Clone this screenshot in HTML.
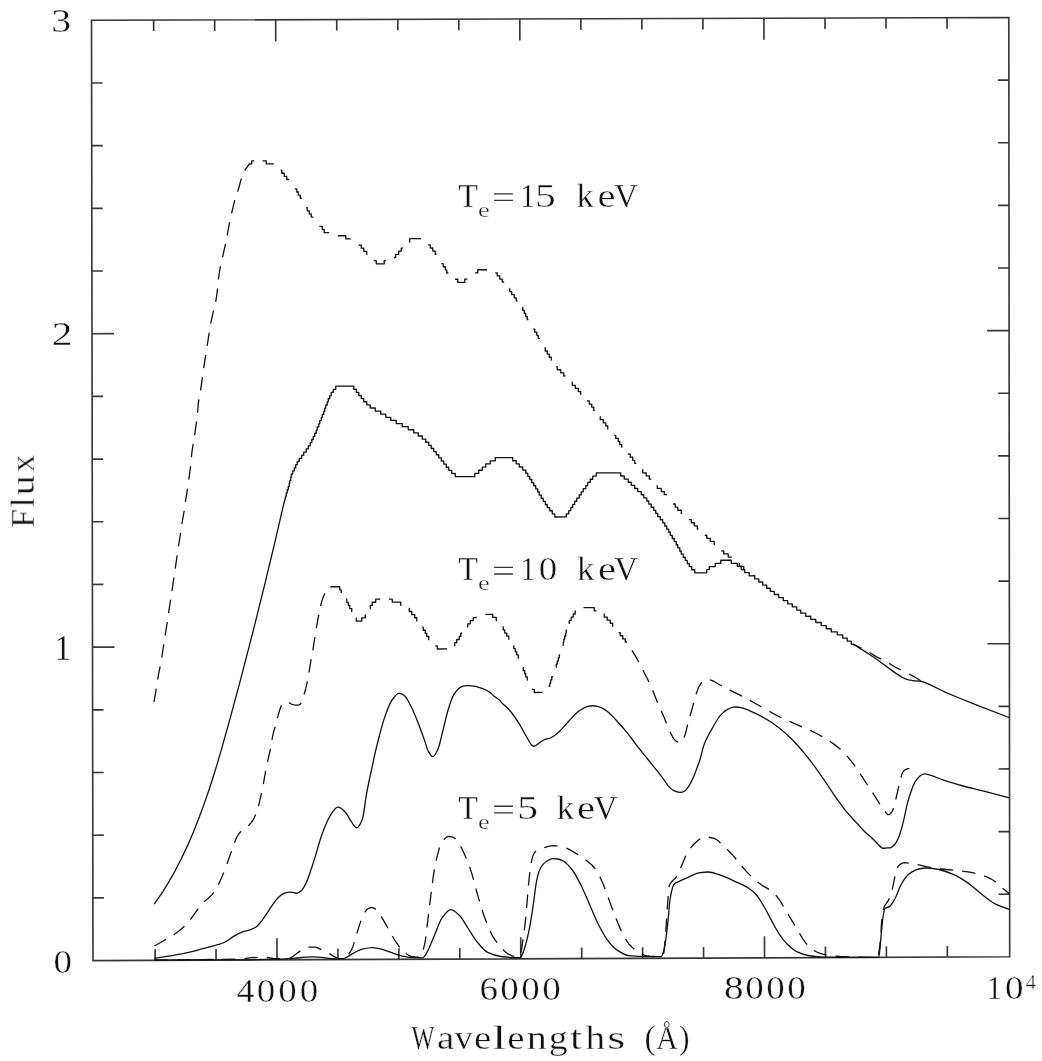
<!DOCTYPE html><html><head><meta charset="utf-8"><style>html,body{margin:0;padding:0;background:#fff;}svg{display:block;} text{will-change:transform;}</style></head><body>
<svg width="1042" height="1061" viewBox="0 0 1042 1061">
<rect width="1042" height="1061" fill="#fff"/>
<path d="M93 960.6 L1009.7 956.8 L1008.8 17.5 L91.5 20.3 Z" fill="none" stroke="#383838" stroke-width="1.65"/>
<path d="M155.12 960.34 L155.1 949.34 M153.64 20.11 L153.66 31.11 M216.06 960.09 L216.04 949.09 M214.67 19.92 L214.69 30.92 M277 959.84 L276.97 938.34 M275.7 19.74 L275.73 41.24 M337.94 959.58 L337.92 948.58 M336.73 19.55 L336.75 30.55 M398.88 959.33 L398.86 948.33 M397.76 19.37 L397.78 30.37 M459.82 959.08 L459.8 948.08 M458.79 19.18 L458.81 30.18 M520.76 958.83 L520.73 937.33 M519.82 18.99 L519.85 40.49 M581.7 958.57 L581.68 947.57 M580.85 18.81 L580.87 29.81 M642.64 958.32 L642.62 947.32 M641.88 18.62 L641.9 29.62 M703.58 958.07 L703.56 947.07 M702.91 18.43 L702.93 29.43 M764.52 957.82 L764.49 936.32 M763.94 18.25 L763.97 39.75 M825.46 957.56 L825.44 946.56 M824.97 18.06 L824.99 29.06 M886.4 957.31 L886.38 946.31 M886 17.87 L886.02 28.87 M947.34 957.06 L947.32 946.06 M947.03 17.69 L947.05 28.69 M92.9 897.91 L103.9 897.87 M1009.64 894.18 L998.64 894.22 M92.8 835.23 L103.8 835.18 M1009.58 831.56 L998.58 831.6 M92.7 772.54 L103.7 772.5 M1009.52 768.94 L998.52 768.98 M92.6 709.85 L103.6 709.81 M1009.46 706.32 L998.46 706.36 M92.5 647.17 L114.5 647.08 M1009.4 643.7 L987.4 643.78 M92.4 584.48 L103.4 584.44 M1009.34 581.08 L998.34 581.12 M92.3 521.79 L103.3 521.75 M1009.28 518.46 L998.28 518.5 M92.2 459.11 L103.2 459.07 M1009.22 455.84 L998.22 455.88 M92.1 396.42 L103.1 396.38 M1009.16 393.22 L998.16 393.26 M92 333.73 L114.01 333.66 M1009.1 330.6 L987.09 330.68 M91.9 271.05 L102.91 271.01 M1009.04 267.98 L998.03 268.02 M91.8 208.36 L102.81 208.32 M1008.98 205.36 L997.97 205.4 M91.7 145.67 L102.71 145.64 M1008.92 142.74 L997.91 142.78 M91.6 82.99 L102.61 82.95 M1008.86 80.12 L997.85 80.15" fill="none" stroke="#383838" stroke-width="1.65"/>
<path d="M154 701.9 L156.32 688.6 M157.66 679.7 L158.57 674.15 L160.15 666.44 M161.76 657.58 L163.77 644.23 M165.16 635.34 L167.31 622.01 M168.53 613.1 L170.63 599.76 M172 590.87 L173.9 577.5 M175.22 568.6 L177.17 555.24 M178.46 546.33 L180.59 533 M181.85 524.09 L184.19 510.8 M185.42 501.88 L187.53 488.55 M188.79 479.64 L190.57 466.26 M191.39 457.29 L191.92 451.9 L193.18 443.92 M194.63 435.04 L196.52 421.67 M197.58 412.73 L198.28 403.98 L198.9 399.31 M200.52 390.45 L201.29 385.59 L202.39 377.08 M203.63 368.17 L205.75 354.84 M207.2 345.96 L209.18 332.6 M210.62 323.72 L213.51 310.54 M215.64 301.79 L216.59 296.29 L217.62 288.44 M218.45 279.48 L219.24 273.41 L220.51 266.14 M222.51 257.37 L225.48 244.2 M227.23 235.37 L229.59 222.08 M231.56 213.3 L234.8 200.2 M237.61 191.65 L239.08 187.02 L241.26 178.66 M244.85 170.42 L246.5 167.8 L248.47 165.45 L249 163.98 L251.75 163.97 L251.75 160.83 L254.23 160.82 M262.53 160.8 L266.25 160.79 L266.25 163.92 L273.77 163.9 M280.57 170.14 L281.75 170.14 L281.75 173.27 L284.25 173.26 L284.25 176.4 L286.75 176.39 L286.75 179.52 L289.13 179.51 M294.81 188.9 L296.75 188.89 L296.75 192.02 L298.25 192.02 L298.25 195.15 L300.25 195.15 L300.25 198.28 L301.8 198.27 M306.19 207.66 L307.25 207.66 L307.25 210.79 L309.25 210.78 L309.25 213.92 L311.25 213.91 L311.25 217.04 L313.45 217.04 M319.31 226.42 L322.25 226.41 L322.25 229.54 L324.25 229.54 L324.25 232.67 L329.17 232.65 M337.86 235.76 L345.75 235.73 L345.75 238.87 L350.71 238.85 M358.47 245.09 L361.25 245.08 L361.25 248.21 L363.75 248.21 L363.75 251.34 L366.75 251.33 L366.75 254.46 L367.39 254.46 M373.66 260.71 L376.25 260.7 L376.25 263.83 L384.25 263.8 L384.25 260.67 L385.94 260.67 M393.84 257.51 L395.75 257.5 L395.75 254.37 L398.75 254.36 L398.75 251.22 L401.25 251.21 L401.25 248.08 L402.89 248.08 M408.96 241.79 L409.75 241.79 L409.75 238.65 L421.01 238.62 M428.14 244.86 L430.25 244.85 L430.25 247.99 L432.75 247.98 L432.75 251.11 L435.25 251.1 L435.25 254.23 L436.56 254.23 M441.45 263.61 L443.25 263.61 L443.25 266.74 L445.25 266.73 L445.25 269.87 L446.75 269.86 L446.75 272.99 L448.42 272.99 M455.11 279.23 L457.75 279.22 L457.75 282.36 L464.75 282.33 L464.75 279.2 L467.52 279.19 M474.81 272.9 L477.75 272.89 L477.75 269.76 L487.08 269.73 M495.26 272.83 L497.25 272.83 L497.25 275.96 L499.75 275.95 L499.75 279.08 L502.25 279.07 L502.25 282.21 L504.16 282.2 M509.66 288.45 L509.75 288.45 L509.75 291.58 L511.75 291.57 L511.75 294.71 L514.25 294.7 L514.25 297.83 L516.25 297.82 L516.25 300.96 L517.57 300.95 M522.43 307.2 L522.75 307.2 L522.75 310.33 L524.25 310.33 L524.25 313.46 L525.75 313.46 L525.75 316.59 L527.25 316.58 L527.25 319.72 L528.43 319.71 M533.18 329.09 L534.75 329.09 L534.75 332.22 L536.75 332.21 L536.75 335.35 L538.25 335.34 L538.25 338.48 L540.08 338.47 M544.42 347.85 L545.25 347.85 L545.25 350.98 L547.25 350.98 L547.25 354.11 L549.25 354.1 L549.25 357.23 L551.25 357.23 L551.25 360.36 L551.4 360.36 M556.25 366.61 L557.25 366.6 L557.25 369.74 L560.75 369.72 L560.75 372.86 L563.75 372.85 L563.75 375.98 L565.53 375.97 M571.63 382.22 L572.25 382.21 L572.25 385.35 L575.25 385.34 L575.25 388.47 L578.25 388.46 L578.25 391.59 L580.75 391.58 L580.75 394.72 L580.87 394.72 M586.88 400.96 L589.25 400.95 L589.25 404.08 L591.75 404.07 L591.75 407.21 L593.75 407.2 L593.75 410.33 L594.76 410.33 M600.13 416.58 L600.25 416.57 L600.25 419.71 L603.25 419.7 L603.25 422.83 L605.75 422.82 L605.75 425.95 L607.75 425.95 L607.75 429.08 L608.28 429.08 M614.17 435.32 L615.75 435.32 L615.75 438.45 L618.25 438.44 L618.25 441.57 L619.75 441.57 L619.75 444.7 L621.75 444.69 L621.77 447.82 M627.84 454.07 L630.25 454.06 L630.25 457.19 L632.75 457.18 L632.75 460.31 L634.75 460.31 L634.75 463.44 L636.3 463.43 M642.16 469.68 L642.75 469.68 L642.75 472.81 L646.25 472.79 L646.25 475.93 L649.25 475.92 L649.25 479.05 L651.33 479.04 M657.21 485.28 L657.25 488.42 L661.25 488.4 L661.25 491.53 L664.25 491.52 L664.25 494.66 L667.06 494.65 M672.98 504.02 L675.25 504.01 L675.25 507.15 L677.75 507.14 L677.75 510.27 L681.25 510.26 L681.25 513.39 L682.23 513.38 M688.92 519.62 L691.25 519.62 L691.25 522.75 L694.25 522.74 L694.25 525.87 L697.25 525.86 L697.25 528.99 L698.41 528.99 M704.76 535.23 L706.75 535.22 L706.75 538.35 L710.25 538.34 L710.25 541.47 L714.25 541.46 L714.25 544.59 L714.81 544.59 M721.17 550.83 L723.75 550.82 L723.75 553.95 L728.25 553.93 L728.25 557.07 L731.85 557.05 M738.64 563.29 L739.25 563.29 L739.25 566.42 L743.75 566.4 L743.75 569.54 L744.5 569.53" fill="none" stroke="#111" stroke-width="1.3" stroke-linejoin="round"/>
<path d="M853 644.1 L861.54 648.27 M869.51 652.44 L876.1 656.6 L881.2 659.15 M889.11 663.43 L895.3 667.2 L900.87 670.03 M908.96 673.97 L914.5 676.8 L920.66 680.68" fill="none" stroke="#111" stroke-width="1.3" stroke-linejoin="round"/>
<path d="M154.2 904.2 L161.53 893.58 L168.39 882.64 L175.17 870.72 L181.46 858.54 L187.65 845.4 L193.4 832.06 L199.33 817.06 L205.13 801.14 L209.04 789.69 L212.78 778.18 L216.6 765.85 L220.74 751.93 L229.68 720.08 L241.81 674.89 L253.32 630.37 L264.63 584.96 L274.42 544.17 L283.68 504.21 L285.96 495.77 L286 496.02 L286.25 496.02 L286.25 492.89 L287.25 492.88 L287.25 489.75 L288.25 489.75 L288.25 486.61 L289.25 486.61 L289.25 483.47 L289.75 483.47 L289.75 480.34 L290.75 480.34 L290.75 477.2 L291.25 477.2 L291.25 474.07 L292.75 474.06 L292.75 470.93 L294.25 470.92 L294.25 467.79 L295.75 467.78 L295.75 464.65 L297.25 464.64 L297.25 461.51 L299.25 461.5 L299.25 458.37 L301.75 458.36 L301.75 455.23 L303.75 455.22 L303.75 452.09 L306.25 452.08 L306.25 448.94 L308.25 448.94 L308.25 445.8 L310.25 445.8 L310.25 442.66 L311.75 442.66 L311.75 439.52 L313.25 439.52 L313.25 436.39 L314.75 436.38 L314.75 433.25 L316.25 433.24 L316.25 430.11 L317.25 430.1 L317.25 426.97 L318.75 426.97 L318.75 423.83 L319.75 423.83 L319.75 420.69 L321.25 420.69 L321.25 417.56 L322.25 417.55 L322.25 414.42 L323.75 414.41 L323.75 411.28 L324.75 411.28 L324.75 408.14 L325.75 408.14 L325.75 405.01 L327.25 405 L327.25 401.87 L328.25 401.86 L328.25 398.73 L329.75 398.73 L329.75 395.59 L331.25 395.59 L331.25 392.45 L333.25 392.45 L333.25 389.31 L335.75 389.3 L335.75 386.17 L353.75 386.11 L353.75 389.24 L356.25 389.23 L356.25 392.37 L358.75 392.36 L358.75 395.49 L361.25 395.48 L361.25 398.62 L363.75 398.61 L363.75 401.74 L366.75 401.73 L366.75 404.86 L370.25 404.85 L370.25 407.98 L375.25 407.97 L375.25 411.1 L380.75 411.08 L380.75 414.21 L385.75 414.2 L385.75 417.33 L390.75 417.31 L390.75 420.44 L396.25 420.43 L396.25 423.56 L402.25 423.54 L402.25 426.67 L408.25 426.65 L408.25 429.78 L413.75 429.76 L413.75 432.9 L418.25 432.88 L418.25 436.01 L422.25 436 L422.25 439.13 L425.75 439.12 L425.75 442.25 L428.75 442.24 L428.75 445.38 L431.25 445.37 L431.25 448.5 L433.75 448.49 L433.75 451.62 L436.25 451.62 L436.25 454.75 L438.75 454.74 L438.75 457.87 L441.25 457.86 L441.25 461 L443.75 460.99 L443.75 464.12 L446.25 464.11 L446.25 467.25 L448.75 467.24 L448.75 470.37 L451.75 470.36 L451.75 473.49 L455.25 473.48 L455.25 476.61 L474.75 476.54 L474.75 473.41 L478.75 473.39 L478.75 470.26 L482.25 470.25 L482.25 467.12 L485.75 467.1 L485.75 463.97 L490.25 463.96 L490.25 460.82 L495.25 460.8 L495.25 457.67 L512.75 457.61 L512.75 460.74 L516.25 460.73 L516.25 463.86 L519.25 463.85 L519.25 466.98 L522.75 466.97 L522.75 470.1 L525.75 470.09 L525.75 473.23 L527.75 473.22 L527.75 476.35 L529.75 476.34 L529.75 479.48 L531.75 479.47 L531.75 482.6 L533.75 482.6 L533.75 485.73 L535.75 485.72 L535.75 488.85 L537.75 488.85 L537.75 491.98 L539.25 491.97 L539.25 495.11 L541.25 495.1 L541.25 498.23 L543.25 498.23 L543.25 501.36 L545.25 501.35 L545.25 504.48 L547.25 504.48 L547.25 507.61 L549.75 507.6 L549.75 510.73 L552.25 510.72 L552.25 513.86 L554.75 513.85 L554.75 516.98 L566.25 516.94 L566.25 513.81 L568.75 513.8 L568.75 510.66 L570.75 510.66 L570.75 507.52 L572.75 507.52 L572.75 504.38 L574.75 504.38 L574.75 501.24 L576.75 501.24 L576.75 498.1 L579.25 498.1 L579.25 494.96 L581.25 494.96 L581.25 491.82 L583.25 491.82 L583.25 488.68 L585.75 488.67 L585.75 485.54 L587.75 485.53 L587.75 482.4 L590.25 482.39 L590.25 479.26 L592.75 479.25 L592.75 476.12 L596.25 476.11 L596.25 472.97 L620.75 472.89 L620.75 476.02 L624.25 476.01 L624.25 479.14 L628.25 479.12 L628.25 482.26 L631.25 482.25 L631.25 485.38 L634.75 485.37 L634.75 488.5 L637.75 488.49 L637.75 491.62 L641.25 491.61 L641.25 494.74 L643.75 494.73 L643.75 497.86 L646.75 497.85 L646.75 500.98 L648.75 500.98 L648.75 504.11 L651.25 504.1 L651.25 507.23 L653.75 507.22 L653.75 510.36 L655.75 510.35 L655.75 513.48 L657.75 513.47 L657.75 516.61 L660.25 516.6 L660.25 519.73 L662.75 519.72 L662.75 522.85 L664.75 522.84 L664.75 525.98 L666.75 525.97 L666.75 529.1 L668.75 529.09 L668.75 532.23 L670.25 532.22 L670.25 535.35 L672.25 535.35 L672.25 538.48 L674.25 538.47 L674.25 541.6 L676.25 541.6 L676.25 544.73 L677.75 544.72 L677.75 547.86 L679.75 547.85 L679.75 550.98 L681.25 550.97 L681.25 554.11 L683.25 554.1 L683.25 557.23 L685.25 557.22 L685.25 560.36 L687.25 560.35 L687.25 563.48 L689.25 563.47 L689.25 566.61 L691.75 566.6 L691.75 569.73 L694.75 569.72 L694.75 572.85 L706.75 572.81 L706.75 569.67 L709.25 569.66 L709.25 566.53 L715.25 566.51 L715.25 563.38 L720.75 563.36 L720.75 560.23 L731.25 560.19 L731.25 563.32 L737.25 563.3 L737.25 566.43 L741.25 566.41 L741.25 569.55 L744.75 569.53 L744.75 572.66 L749.25 572.65 L749.25 575.78 L754.75 575.76 L754.75 578.89 L758.75 578.88 L758.75 582.01 L762.75 581.99 L762.75 585.13 L766.75 585.11 L766.75 588.24 L770.25 588.23 L770.25 591.36 L774.25 591.35 L774.25 594.48 L778.75 594.46 L778.75 597.59 L783.25 597.58 L783.25 600.71 L787.75 600.69 L787.75 603.82 L792.25 603.81 L792.25 606.94 L796.75 606.92 L796.75 610.05 L800.75 610.04 L800.75 613.17 L805.75 613.15 L805.75 616.28 L810.75 616.26 L810.75 619.4 L815.75 619.38 L815.75 622.51 L821.25 622.49 L821.25 625.62 L826.25 625.6 L826.25 628.73 L831.25 628.71 L831.25 631.85 L837.25 631.82 L837.25 634.96 L842.75 634.93 L842.75 638.07 L847.25 638.05 L847.25 641.18 L851.25 641.17 L851.25 644.3 L853 644.29 L853.66 644.55 L867.59 653.17 L874.16 657.58 L881.41 662.67 L894.55 672.39 L901.76 677.11 L904.9 678.7 L906.8 679.39 L908.66 679.88 L913.39 680.73 L919.93 681.15 L922.1 681.6 L925.14 682.62 L930.3 684.88 L943.39 691.29 L956.72 697.01 L974.9 704.36 L1009 717.5" fill="none" stroke="#111" stroke-width="1.3" stroke-linejoin="round"/>
<path d="M154.4 946 L166.1 939.27 M173.84 934.67 L179.6 930.53 L184.42 926.32 M190.39 919.6 L198.24 908.62 M204.01 901.74 L208.99 897.68 L211.72 894.91 L213.8 892.5 M218.36 884.76 L221.34 878.15 L223.74 872.38 M226.95 863.98 L231.51 851.27 M234.54 842.8 L235.77 839.39 L237.48 836 L239.12 833.5 L240.4 832 L241.23 831.25 M248.32 825.75 L250.96 822.97 L252.8 820.5 L254.14 818.09 L255.65 814.58 M258.49 806.04 L261.55 792.9 M263.38 784.08 L265.64 770.78 M267.56 761.98 L270.48 748.8 M271.99 739.93 L273 734.1 L273.72 731.43 L275.19 726.85 M277.42 718.13 L278.24 714.84 L280.08 708.86 L280.79 706.87 L281.52 705.3 M289.1 702.59 L291.31 704.06 L292.2 704.4 L294.06 704.82 L296.13 705.11 L298.17 705.04 L299.09 704.81 L299.9 704.4 L300.43 703.96 L301.21 702.92 M304.09 694.43 L305.79 688.47 L307.39 681.34 M308.97 672.49 L311.16 659.17 M312.88 650.33 L314.88 636.98 M316.29 628.09 L318.77 614.82 M320.54 606 L322.09 600.32 L323.02 597.76 L324.9 593.28 M330.33 586.73 L339.75 586.7 L339.75 589.83 L341.25 589.82 L341.32 592.96 M346.14 599.21 L346.75 599.2 L346.75 602.34 L348.25 602.33 L348.25 605.47 L349.75 605.46 L349.75 608.59 L351.75 608.59 L351.75 611.72 L352.1 611.72 M356.03 617.97 L356.25 617.97 L356.25 621.1 L361.75 621.08 L361.75 617.95 L365.25 617.94 L365.25 614.8 L365.86 614.8 M370 608.52 L370.25 608.52 L370.25 605.38 L372.25 605.38 L372.25 602.24 L375.75 602.23 L375.75 599.1 L380.23 599.08 M388.87 599.05 L392.25 599.03 L392.25 602.17 L400.75 602.14 L400.75 605.27 L401.51 605.27 M408.7 608.37 L409.25 608.37 L409.25 611.5 L411.75 611.49 L411.75 614.63 L414.75 614.62 L414.75 617.75 L416.75 617.74 L416.75 620.88 L417.29 620.87 M422.29 627.12 L423.25 627.12 L423.25 630.25 L425.25 630.24 L425.25 633.38 L426.75 633.37 L426.75 636.5 L428.75 636.5 L428.75 639.63 L429.3 639.63 M435.14 645.87 L437.25 645.86 L437.25 649 L447.1 648.96 M454.31 645.8 L454.75 645.8 L454.75 642.66 L456.75 642.66 L456.75 639.52 L459.25 639.51 L459.25 636.38 L460.75 636.38 L460.75 633.24 L461.96 633.24 M467.11 626.95 L467.75 626.95 L467.75 623.82 L470.25 623.81 L470.25 620.67 L473.25 620.66 L473.25 617.53 L476.9 617.52 M485.36 614.35 L492.75 614.32 L492.75 617.46 L496.25 617.44 L496.25 620.58 L497.07 620.57 M502.44 626.82 L503.25 626.82 L503.25 629.95 L504.75 629.94 L504.75 633.08 L506.75 633.07 L506.75 636.2 L508.75 636.19 L508.75 639.33 L509.27 639.32 M513.61 645.57 L513.75 645.57 L513.75 648.71 L515.25 648.7 L515.25 651.83 L516.75 651.83 L516.75 654.96 L518.25 654.95 L518.25 658.09 L519.15 658.08 M522.72 667.47 L523.25 667.47 L523.25 670.6 L524.75 670.59 L524.75 673.73 L525.75 673.72 L525.75 676.86 L527.25 676.85 L527.25 679.98 L527.81 679.98 M531.91 689.36 L534.25 689.35 L534.25 692.49 L542.49 692.46 M548.43 686.17 L549.75 686.16 L549.75 683.03 L550.75 683.03 L550.75 679.89 L551.75 679.89 L551.75 676.76 L553.14 676.75 M556 667.34 L556.25 667.34 L556.25 664.21 L557.25 664.2 L557.25 661.07 L558.25 661.07 L558.25 657.94 L559.25 657.93 L559.25 654.8 L560.13 654.8 M562.73 645.39 L563.25 645.39 L563.25 642.25 L563.75 642.25 L563.75 639.12 L564.75 639.12 L564.75 635.98 L565.75 635.98 L565.75 632.85 L566.25 632.84 L566.25 629.71 L566.34 629.71 M568.81 623.44 L569.25 623.44 L569.25 620.3 L571.25 620.3 L571.25 617.16 L573.25 617.16 L573.25 614.02 L575.25 614.02 L575.25 610.88 L575.88 610.88 M583.52 607.72 L594.25 607.68 L594.25 610.81 L596.49 610.8 M603.84 613.91 L604.25 613.91 L604.25 617.04 L607.25 617.03 L607.25 620.16 L610.25 620.15 L610.25 623.28 L612.75 623.27 L612.75 626.4 L613.05 626.4 M618.54 632.65 L620.25 632.64 L620.25 635.77 L622.75 635.76 L622.75 638.9 L625.25 638.89 L625.25 642.02 L626.99 642.01 M631.96 650.31 L635.9 656.9 L638.71 661.99 M642.87 669.97 L648.97 682.01 M652.64 690.23 L657.62 702.78 M661.19 711.04 L664.3 717.8 L666.49 723.45 M670.05 731.71 L672.12 735.95 L673.9 738.9 L675.62 740.81 L677.87 742.4 M684.03 737.63 L685.28 734.05 L687.64 724.64 M690.08 715.98 L693.64 702.96 M696.1 694.3 L697.33 690.38 L698.4 687.78 L700.31 684.39 L701.86 682.2 M709.86 679.8 L711.72 680.36 L714.04 681.44 L721.81 685.97 M729.82 690.06 L741.91 696.08 M749.82 700.37 L761.59 706.98 M769.42 711.42 L775.93 715.01 L781.34 717.74 M789.56 721.4 L801.94 726.8 M810.19 730.4 L816.17 733.25 L822.19 736.56 M829.82 741.34 L835.55 745.37 L840.62 749.41 M846.9 755.85 L851.84 761.91 L855.23 766.47 M860.23 773.95 L867.6 785.26 M872.67 792.7 L879.82 804.15 M884.95 811.53 L886.45 813.39 L887.15 814.07 L887.84 814.53 L888.5 814.7 L889.17 814.54 L889.84 814.11 L890.5 813.46 L891.74 811.8 L892.67 810.21 L893.53 808.08 M895.81 799.38 L898.84 786.23 M901.01 777.49 L901.82 774.52 L902.47 772.86 L903.3 771.5 L903.97 770.75 L905.51 769.53 L906.35 769.09 L908.1 768.6 L909.39 768.69" fill="none" stroke="#111" stroke-width="1.3" stroke-linejoin="round"/>
<path d="M154.4 958.4 C159.07 957.63 163.37 956.96 168.4 956.1 C174.3 955.09 181.59 954.03 187.6 952.7 C193.02 951.5 198.15 949.85 202.9 948.6 C207.03 947.51 210.84 946.67 214.5 945.6 C217.84 944.62 220.91 943.96 224 942.5 C227.29 940.95 230.54 938.18 233.6 936.4 C236.28 934.84 238.67 933.34 241.3 932.3 C243.81 931.3 246.48 931.14 249 930.2 C251.61 929.23 254.32 928.36 256.7 926.5 C259.53 924.29 261.93 920.54 264.4 917.2 C267.04 913.64 269.59 909.12 272 905.7 C274.02 902.84 275.62 900.13 277.8 898 C279.82 896.03 282.15 894.15 284.5 893.2 C286.63 892.34 289.05 892.18 291.2 892.2 C293.2 892.22 295.22 893.54 297 893.2 C298.74 892.87 300.32 891.85 301.8 890.3 C303.96 888.04 305.91 883.41 307.5 879.8 C309.07 876.24 310.05 872.53 311.3 868.8 C312.58 864.97 313.74 861.47 315.1 857.1 C316.82 851.58 318.71 844.19 320.7 838.3 C322.5 832.96 324.35 827.7 326.4 823.2 C328.16 819.35 329.89 815.61 332 812.8 C333.74 810.49 335.6 807.44 337.7 807.2 C339.83 806.96 342.6 809.48 344.7 811.5 C347.21 813.92 349.06 818.42 351.2 821.3 C353.02 823.74 354.84 827.87 356.6 827.8 C358.45 827.73 360.57 823.64 362 820.2 C364.28 814.71 364.65 804.17 366 796.8 C367.22 790.18 368.51 783.71 369.7 778 C370.7 773.21 371.65 769.2 372.6 764.8 C373.55 760.4 374.35 756.14 375.4 751.6 C376.53 746.73 377.83 741.67 379.2 736.5 C380.65 731.02 382.04 725.2 383.9 719.6 C385.8 713.89 388.42 706.53 390.5 702.6 C391.71 700.31 392.68 699.05 394 697.5 C395.29 695.99 396.64 693.77 398.3 693.4 C399.97 693.03 402.29 693.99 404 695.3 C406.26 697.03 407.88 700.51 409.8 704 C412.38 708.68 415.04 715.13 417.5 721.2 C420.19 727.83 423.27 736.83 425.2 742.3 C426.42 745.76 426.75 748.33 428.1 750.8 C429.34 753.07 431.25 756.74 432.8 756.7 C434.42 756.66 436.21 752.91 437.6 750 C439.65 745.71 440.76 738.89 442.4 732.7 C444.28 725.59 446.05 716.53 448.2 709.7 C449.98 704.02 451.41 698.43 454 694.4 C456.1 691.12 458.8 688.09 461.6 686.7 C463.97 685.52 466.39 685.58 469.3 685.7 C473.16 685.86 478.98 687.26 482.7 688.6 C485.58 689.64 487.96 690.98 490 692.4 C491.71 693.59 492.75 695.05 494.3 696.3 C495.94 697.62 498.26 698.82 499.6 700.1 C500.61 701.06 500.86 701.88 501.9 703 C503.6 704.83 506.75 706.93 509.2 709.7 C512.37 713.27 515.88 718.55 518.8 723.1 C521.63 727.52 523.93 732.54 526.5 736.6 C528.73 740.13 530.77 745.59 533.2 746.2 C534.99 746.65 537.11 744.36 538.9 743.3 C540.6 742.29 541.84 740.92 543.7 740 C545.9 738.92 548.93 738.77 551.4 737.5 C554.08 736.12 556.51 734.15 559.1 731.8 C562.26 728.93 565.46 724.61 568.7 721.2 C571.86 717.88 574.91 714.15 578.3 711.6 C581.35 709.31 584.59 707.15 587.9 706.3 C591 705.5 594.58 705.67 597.5 706.3 C600.17 706.87 602.69 708.31 604.8 709.6 C606.65 710.72 608.04 712.01 609.6 713.4 C611.24 714.86 612.82 716.54 614.4 718.2 C616.02 719.9 617.54 721.62 619.2 723.5 C621.05 725.59 623.1 727.91 625 730.2 C626.93 732.54 628.81 734.95 630.7 737.4 C632.64 739.91 634.56 742.59 636.5 745.1 C638.39 747.55 640.29 749.9 642.2 752.3 C644.12 754.7 646.08 757.1 648 759.5 C649.91 761.9 651.79 764.3 653.7 766.7 C655.62 769.1 657.59 771.44 659.5 773.9 C661.45 776.41 663.58 779.26 665.3 781.6 C666.71 783.52 667.64 785.37 669.1 786.9 C670.52 788.39 672.12 789.8 673.9 790.7 C675.66 791.59 677.85 792.26 679.7 792.3 C681.37 792.34 683.04 792.1 684.5 791.2 C686.31 790.08 687.86 787.62 689.3 785.4 C690.93 782.9 692.33 779.71 693.6 776.8 C694.85 773.94 695.83 771 696.9 768.1 C697.96 765.23 698.93 762.83 700 759.5 C701.44 755.03 702.49 748.76 704.5 743.6 C706.54 738.35 709.33 733.24 712.2 728.3 C715.09 723.34 717.98 717.5 721.8 713.9 C725.15 710.74 729.51 708.04 733.3 707.2 C736.53 706.49 739.5 707.23 742.9 708.1 C747.1 709.17 751.82 711.64 756.4 713.9 C761.41 716.37 766.88 719.28 771.7 722.5 C776.47 725.69 780.82 729.22 785.2 733.1 C789.8 737.18 794.25 741.7 798.6 746.5 C803.19 751.56 807.79 757.28 812 762.8 C816.11 768.18 819.78 773.64 823.6 779.2 C827.48 784.84 832.04 791.99 835.1 796.4 C837.05 799.2 838.28 800.87 840 803.2 C841.84 805.7 843.75 808.38 845.8 810.9 C847.91 813.48 850.25 816.02 852.5 818.5 C854.72 820.95 857.05 823.38 859.2 825.7 C861.21 827.87 862.93 830.01 865 832 C867.1 834.01 869.6 835.74 871.7 837.7 C873.72 839.58 875.57 841.69 877.4 843.5 C879.06 845.14 880.45 847.46 882.2 848.1 C883.69 848.65 885.48 847.89 887 847.8 C888.37 847.72 889.68 848.07 890.9 847.6 C892.27 847.07 893.55 845.87 894.7 844.5 C896.15 842.77 897.41 840.15 898.5 837.7 C899.67 835.05 900.49 832.19 901.4 829.1 C902.44 825.56 903.37 821.6 904.3 817.6 C905.31 813.29 906.06 808.48 907.2 804.1 C908.3 799.85 909.63 795.54 911 791.7 C912.22 788.27 913.29 784.8 914.9 782.1 C916.27 779.8 917.96 777.72 919.7 776.3 C921.17 775.1 922.24 773.98 924.4 773.8 C928.68 773.44 937.66 778.34 944.2 780.4 C950.56 782.4 956.79 784.28 963.1 786 C969.36 787.71 975.05 788.94 981.9 790.7 C990.18 792.82 1000.17 795.5 1009.3 797.9" fill="none" stroke="#111" stroke-width="1.3" stroke-linejoin="round"/>
<path d="M154.4 960.1 L167.9 959.96 M176.9 959.86 L190.4 959.72 M199.4 959.61 L212.9 959.47 M221.9 959.38 L235.39 959.14 M244.37 958.62 L251.06 957.65 L257.79 957.47 M266.79 957.5 L274.15 958.6 L280.2 958.66 M289.19 958.27 L290.52 957.88 L292.05 956.99 L300.4 950.89 M308.36 947.2 L315.3 947.2 L316.22 947.32 L317.13 947.63 L321.32 949.7 M329.34 953.68 L334.28 956.68 L337.72 958.24 L339.44 958.81 L340.3 958.9 L341.55 958.83 M348.77 954.33 L350.43 951.7 L351.83 949.03 L352.9 946.5 L354.35 942.11 M356.9 933.48 L359.5 924.84 L360.96 920.61 M364.76 912.47 L365.85 910.75 L366.95 909.42 L368.36 908.53 L370.08 907.79 L371.8 907.5 L372.64 907.62 L374.32 908.38 L375.77 909.34 M381.23 916.43 L387.94 928.14 M392.28 936.03 L395.12 940.77 L399.64 947.34 M406.06 953.58 L408.67 955.32 L411.02 956.32 L415.63 957.05 L417.54 957.18 L418.75 957.13 M423.28 949.61 L424.92 943.12 L425.94 936.4 M426.98 927.46 L428.55 914.05 M429.63 905.11 L431.3 891.72 M432.44 882.79 L434.32 869.42 M436.11 860.6 L438.5 851.06 L439.5 847.54 M443.81 839.7 L446.35 837.39 L447.92 836.53 L448.7 836.4 L450.42 836.56 L453 837.2 L454.43 837.97 L455.53 838.92 M460.7 846.23 L464.16 853.48 L466.35 858.48 M469.58 866.88 L471.92 873.84 L473.59 879.77 M475.85 888.48 L477.38 894.19 L479.52 901.47 M482.15 910.08 L484.28 916.48 L486.66 922.8 M490.15 931.09 L491.74 934.38 L493.3 937.2 L495.07 939.94 L497.08 942.64 M502.93 949.47 L505.94 952.42 L508.11 953.89 L511.37 955.52 L514.28 956.26 M520.67 952.47 L521.4 950.2 L521.81 948.37 L523.06 939.22 M524.25 930.3 L525.88 916.9 M526.63 907.93 L527.66 894.47 M528.46 885.51 L529.81 872.07 M531.21 863.19 L532.3 857.89 L533.1 855.26 L534.36 852.85 L535.96 850.79 M544.29 847.59 L548.3 846.36 L551 845.82 L553.71 845.72 L557.53 846.08 M566.29 848.1 L568.03 848.85 L570.63 850.2 L578.09 854.63 M585.51 859.71 L591.52 864.76 L593.52 866.77 L595.35 868.9 M599.88 876.65 L603.04 883.79 L605.12 889.09 M608.19 897.55 L612.84 910.22 M616.07 918.62 L619.14 926.14 L621.34 931.05 M625.53 939.01 L627.2 941.7 L628.7 943.7 L631.57 946.76 L634.3 949.16 M641.84 954.05 L644.26 955.14 L646 955.6 L650.83 956.29 L654.99 956.5 M663.2 954.14 L663.7 953.25 L664 951.71 L665.02 940.86 M665.75 931.88 L666.63 918.41 M667.2 909.43 L668.19 895.97 M669 887.01 L669.2 886 L669.66 884.75 L670.58 883.14 L672.11 881.27 L675.19 878.44 L676.74 876.25 M680.59 868.12 L685.8 855.67 M690.55 848.05 L692.04 846.21 L693.82 844.3 L698.17 840.34 L700.21 838.67 M708.77 837.25 L714.1 838.4 L715.58 839 L717.79 840.53 L720.55 843.07 M727.09 849.25 L732.61 854.94 L736.19 859.21 M741.8 866.24 L746.76 871.87 L750.96 876.14 M757.72 882.09 L762.9 885.93 L769.04 889.38 M775.8 895.26 L779.88 900.47 L783.44 906.35 M788 914.11 L794.94 925.69 M799.5 933.45 L802.98 939.06 L805.3 942.43 L807.02 944.64 M813.85 950.47 L816.76 951.99 L820.2 953.34 L822.78 954.11 L826.52 954.88 M835.43 956.14 L840 956.5 L848.91 956.93 M857.9 957.17 L871.4 957.28 M878.49 954.83 L879.67 946.83 L880.32 941.45 M880.96 932.48 L881.51 923.01 L881.9 919.01 M883.23 910.11 L883.9 907.6 L884.94 905.29 L888.08 900.99 L889.36 898.24 M892.13 889.69 L893 886.13 L894.94 876.49 M897.53 867.87 L898.31 866.11 L899 865.2 L900.63 864.05 L902.26 863.21 L903.89 862.76 L904.7 862.7 L908.77 863.03 M917.64 864.56 L926.37 866.55 L930.84 867.38 M939.74 868.73 L946.09 869.51 L953.16 870.18 M962.1 871.14 L969.67 872.2 L975.42 873.33 M984.04 875.89 L987.37 877.18 L990.7 878.82 L993.89 880.77 L995.82 882.32 M1002.6 888.24 L1009.3 893.4" fill="none" stroke="#111" stroke-width="1.3" stroke-linejoin="round"/>
<path d="M154.4 960.2 C196.27 959.87 238.13 959.95 280 959.2 C285 959.11 290 958.61 295 958.2 C298.33 957.93 301.67 957.42 305 957.2 C307.73 957.02 310.47 956.8 313.2 956.8 C315.9 956.8 318.6 957.17 321.3 957.4 C325.87 957.8 330.43 958.9 335 958.9 C337.83 958.9 340.67 958.8 343.5 958.6 C345 958.49 346.5 957.28 348 956.5 C349.77 955.59 351.53 954.35 353.3 953.4 C356.2 951.84 359.1 949.74 362 949.1 C365.6 948.3 369.2 947.6 372.8 947.6 C376.43 947.6 380.07 948.87 383.7 949.8 C388.03 950.91 392.37 953.3 396.7 954.5 C401.03 955.7 405.37 957.17 409.7 957.4 C414.03 957.63 418.37 957.8 422.7 957.8 C423.63 957.8 424.57 956.22 425.5 955 C426.37 953.87 427.23 951.96 428.1 950.2 C430.27 945.8 432.43 940 434.6 935 C437.13 929.15 439.67 921.08 442.2 917.7 C445.07 913.88 447.93 909.7 450.8 909.7 C453.7 909.7 456.6 912.83 459.5 915.5 C462.4 918.17 465.3 924.14 468.2 928.5 C471.07 932.81 473.93 938.02 476.8 941.5 C480.43 945.91 484.07 950.63 487.7 952.4 C492.03 954.51 496.37 955.91 500.7 956.5 C504.47 957.01 508.23 957.42 512 957.5 C514.77 957.56 517.53 957.6 520.3 957.6 C521.03 957.6 521.77 955.5 522.5 954 C523.23 952.5 523.97 950.34 524.7 948 C526.13 943.43 527.57 937.63 529 930.7 C530.43 923.77 531.87 914.18 533.3 904.7 C534.4 897.42 535.5 886.27 536.6 880.8 C537.4 876.82 538.2 873.59 539 871.5 C540 868.89 541 867 542 865.7 C543.67 863.53 545.33 861.94 547 861 C548.93 859.91 550.87 858.7 552.8 858.7 C554.53 858.7 556.27 858.83 558 859 C559.9 859.19 561.8 860.23 563.7 861.3 C566.57 862.91 569.43 866.33 572.3 870 C575.2 873.71 578.1 879.51 581 885.2 C583.9 890.89 586.8 898.16 589.7 904.7 C592.57 911.16 595.43 918.56 598.3 924.2 C601.2 929.9 604.1 935.34 607 939.3 C609.9 943.26 612.8 947.04 615.7 949.1 C620.03 952.18 624.37 955.09 628.7 955.6 C634.47 956.28 640.23 956.7 646 956.7 C651.07 956.7 656.13 956.7 661.2 956.7 C662.27 956.7 663.33 952.2 664.4 948 C665.5 943.67 666.6 933.72 667.7 924.2 C668.47 917.57 669.23 905.32 670 900 C670.63 895.6 671.27 892.37 671.9 890 C672.53 887.63 673.17 885.2 673.8 884.5 C675.4 882.73 677 882.44 678.6 881.6 C682.13 879.74 685.67 878.31 689.2 876.8 C692.4 875.43 695.6 873.39 698.8 872.9 C702 872.41 705.2 872 708.4 872 C712.23 872 716.07 873.69 719.9 874.9 C724.37 876.31 728.83 878.55 733.3 880.6 C738.43 882.96 743.57 884.94 748.7 888.3 C751.27 889.98 753.83 892.16 756.4 895 C758.93 897.8 761.47 902.26 764 906.5 C766.57 910.79 769.13 916.25 771.7 920.9 C774.27 925.55 776.83 930.66 779.4 934.4 C781.97 938.14 784.53 941.49 787.1 944 C790.3 947.12 793.5 950.06 796.7 951.6 C800.53 953.44 804.37 954.85 808.2 955.5 C813.33 956.38 818.47 957.16 823.6 957.2 C832.4 957.27 841.2 957.3 850 957.3 C859.6 957.3 869.2 957.3 878.8 957.3 C879.57 957.3 880.33 943.28 881.1 935.9 C881.73 929.8 882.37 920.91 883 917 C883.63 913.09 884.27 909.03 884.9 908.5 C886.47 907.18 888.03 907.58 889.6 906.6 C891.47 905.43 893.33 901.6 895.2 898.2 C897.1 894.74 899 888.33 900.9 885 C903.4 880.61 905.9 876.74 908.4 874.6 C910.93 872.43 913.47 870.69 916 869.9 C919.13 868.93 922.27 868 925.4 868 C929.8 868 934.2 868.76 938.6 869.5 C943.63 870.35 948.67 872.45 953.7 874.6 C958.07 876.47 962.43 879.18 966.8 882.1 C971.83 885.47 976.87 890.58 981.9 894.4 C986.3 897.74 990.7 901.53 995.1 903.8 C999.83 906.24 1004.57 907.6 1009.3 909.5" fill="none" stroke="#111" stroke-width="1.3" stroke-linejoin="round"/>
<text transform="translate(61.1 31.5) scale(1.15 1)" font-size="34.6" text-anchor="middle" font-family="Liberation Serif, serif" fill="#111" stroke="#fff" stroke-width="0.35">3</text>
<text transform="translate(62 344.5) scale(1.2 1)" font-size="34.6" text-anchor="middle" font-family="Liberation Serif, serif" fill="#111" stroke="#fff" stroke-width="0.35">2</text>
<text transform="translate(62.8 659.7) scale(0.95 1)" font-size="36" text-anchor="middle" font-family="Liberation Serif, serif" fill="#111" stroke="#fff" stroke-width="0.35">1</text>
<text transform="translate(62.8 972.5) scale(1.07 1)" font-size="34.6" text-anchor="middle" font-family="Liberation Serif, serif" fill="#111" stroke="#fff" stroke-width="0.35">0</text>
<text transform="translate(245.5 1001.9) scale(1.04 1)" font-size="34.6" text-anchor="middle" font-family="Liberation Serif, serif" fill="#111" stroke="#fff" stroke-width="0.35">4</text><text transform="translate(266.1 1001.9) scale(1.07 1)" font-size="34.6" text-anchor="middle" font-family="Liberation Serif, serif" fill="#111" stroke="#fff" stroke-width="0.35">0</text><text transform="translate(287.6 1001.9) scale(1.07 1)" font-size="34.6" text-anchor="middle" font-family="Liberation Serif, serif" fill="#111" stroke="#fff" stroke-width="0.35">0</text><text transform="translate(309 1001.9) scale(1.07 1)" font-size="34.6" text-anchor="middle" font-family="Liberation Serif, serif" fill="#111" stroke="#fff" stroke-width="0.35">0</text>
<text transform="translate(488.7 1000.2) scale(1.07 1)" font-size="34.6" text-anchor="middle" font-family="Liberation Serif, serif" fill="#111" stroke="#fff" stroke-width="0.35">6</text><text transform="translate(509.5 1000.2) scale(1.07 1)" font-size="34.6" text-anchor="middle" font-family="Liberation Serif, serif" fill="#111" stroke="#fff" stroke-width="0.35">0</text><text transform="translate(530.5 1000.2) scale(1.07 1)" font-size="34.6" text-anchor="middle" font-family="Liberation Serif, serif" fill="#111" stroke="#fff" stroke-width="0.35">0</text><text transform="translate(551.5 1000.2) scale(1.07 1)" font-size="34.6" text-anchor="middle" font-family="Liberation Serif, serif" fill="#111" stroke="#fff" stroke-width="0.35">0</text>
<text transform="translate(733.8 999.4) scale(1.13 1)" font-size="34.6" text-anchor="middle" font-family="Liberation Serif, serif" fill="#111" stroke="#fff" stroke-width="0.35">8</text><text transform="translate(754.6 999.4) scale(1.07 1)" font-size="34.6" text-anchor="middle" font-family="Liberation Serif, serif" fill="#111" stroke="#fff" stroke-width="0.35">0</text><text transform="translate(775.6 999.4) scale(1.07 1)" font-size="34.6" text-anchor="middle" font-family="Liberation Serif, serif" fill="#111" stroke="#fff" stroke-width="0.35">0</text><text transform="translate(796.6 999.4) scale(1.07 1)" font-size="34.6" text-anchor="middle" font-family="Liberation Serif, serif" fill="#111" stroke="#fff" stroke-width="0.35">0</text>
<text transform="translate(994.2 999.4) scale(0.9 1)" font-size="34.6" text-anchor="middle" font-family="Liberation Serif, serif" fill="#111" stroke="#fff" stroke-width="0.35">1</text><text transform="translate(1014.2 999.4) scale(1.07 1)" font-size="34.6" text-anchor="middle" font-family="Liberation Serif, serif" fill="#111" stroke="#fff" stroke-width="0.35">0</text>
<text x="1030.9" y="989.2" font-size="20.5" text-anchor="middle" font-family="Liberation Serif, serif" fill="#111" stroke="#fff" stroke-width="0.35">4</text>
<text transform="translate(423 1049.4) scale(0.73 1)" font-size="33.5" text-anchor="middle" font-family="Liberation Serif, serif" fill="#111" stroke="#fff" stroke-width="0.35">W</text>
<text transform="translate(445.65 1049.4) scale(1.16 1)" font-size="33.5" text-anchor="middle" font-family="Liberation Serif, serif" fill="#111" stroke="#fff" stroke-width="0.35">a</text>
<text transform="translate(463.7 1049.4) scale(1.07 1)" font-size="33.5" text-anchor="middle" font-family="Liberation Serif, serif" fill="#111" stroke="#fff" stroke-width="0.35">v</text>
<text transform="translate(482.7 1049.4) scale(1.16 1)" font-size="33.5" text-anchor="middle" font-family="Liberation Serif, serif" fill="#111" stroke="#fff" stroke-width="0.35">e</text>
<text transform="translate(499.3 1049.4) scale(1.55 1)" font-size="33.5" text-anchor="middle" font-family="Liberation Serif, serif" fill="#111" stroke="#fff" stroke-width="0.35">l</text>
<text transform="translate(515.8 1049.4) scale(1.16 1)" font-size="33.5" text-anchor="middle" font-family="Liberation Serif, serif" fill="#111" stroke="#fff" stroke-width="0.35">e</text>
<text transform="translate(536.75 1049.4) scale(1.2 1)" font-size="33.5" text-anchor="middle" font-family="Liberation Serif, serif" fill="#111" stroke="#fff" stroke-width="0.35">n</text>
<text transform="translate(558.3 1049.4) scale(1.13 1)" font-size="33.5" text-anchor="middle" font-family="Liberation Serif, serif" fill="#111" stroke="#fff" stroke-width="0.35">g</text>
<text transform="translate(575.95 1049.4) scale(1.3 1)" font-size="33.5" text-anchor="middle" font-family="Liberation Serif, serif" fill="#111" stroke="#fff" stroke-width="0.35">t</text>
<text transform="translate(595.4 1049.4) scale(1.17 1)" font-size="33.5" text-anchor="middle" font-family="Liberation Serif, serif" fill="#111" stroke="#fff" stroke-width="0.35">h</text>
<text transform="translate(616.3 1049.4) scale(1.38 1)" font-size="33.5" text-anchor="middle" font-family="Liberation Serif, serif" fill="#111" stroke="#fff" stroke-width="0.35">s</text>
<text x="650.1" y="1049.4" font-size="33.5" text-anchor="middle" font-family="Liberation Serif, serif" fill="#111" stroke="#fff" stroke-width="0.35">(</text>
<text transform="translate(667.05 1049.4) scale(0.89 1)" font-size="33.5" text-anchor="middle" font-family="Liberation Serif, serif" fill="#111" stroke="#fff" stroke-width="0.35">Å</text>
<text transform="translate(684.3 1049.4) scale(0.95 1)" font-size="33.5" text-anchor="middle" font-family="Liberation Serif, serif" fill="#111" stroke="#fff" stroke-width="0.35">)</text>
<g transform="translate(33.9,490.6) rotate(-90)">
<text x="-27.6" y="0" font-size="33.5" text-anchor="middle" font-family="Liberation Serif, serif" fill="#111" stroke="#fff" stroke-width="0.35">F</text>
<text transform="translate(-11.9 0) scale(1.1 1)" font-size="33.5" text-anchor="middle" font-family="Liberation Serif, serif" fill="#111" stroke="#fff" stroke-width="0.35">l</text>
<text transform="translate(5.3 0) scale(1.2 1)" font-size="33.5" text-anchor="middle" font-family="Liberation Serif, serif" fill="#111" stroke="#fff" stroke-width="0.35">u</text>
<text transform="translate(27.1 0) scale(1.05 1)" font-size="33.5" text-anchor="middle" font-family="Liberation Serif, serif" fill="#111" stroke="#fff" stroke-width="0.35">x</text>
</g>
<text transform="translate(468 206.8) scale(0.93 1)" font-size="34.6" text-anchor="middle" font-family="Liberation Serif, serif" fill="#111" stroke="#fff" stroke-width="0.35">T</text><text transform="translate(483.8 216.8) scale(1.27 1)" font-size="20.8" text-anchor="middle" font-family="Liberation Serif, serif" fill="#111" stroke="#fff" stroke-width="0.35">e</text><path d="M494.1 193.8 H512.9 M494.1 200.4 H512.9" stroke="#333" stroke-width="1.35"/><text transform="translate(527.5 206.8) scale(0.85 1)" font-size="34.6" text-anchor="middle" font-family="Liberation Serif, serif" fill="#111" stroke="#fff" stroke-width="0.35">1</text><text transform="translate(545.3 206.8) scale(1.2 1)" font-size="34.6" text-anchor="middle" font-family="Liberation Serif, serif" fill="#111" stroke="#fff" stroke-width="0.35">5</text><text x="585.1" y="206.8" font-size="34.6" text-anchor="middle" font-family="Liberation Serif, serif" fill="#111" stroke="#fff" stroke-width="0.35">k</text><text transform="translate(606.4 206.8) scale(1.17 1)" font-size="34.6" text-anchor="middle" font-family="Liberation Serif, serif" fill="#111" stroke="#fff" stroke-width="0.35">e</text><text transform="translate(626 206.8) scale(0.95 1)" font-size="34.6" text-anchor="middle" font-family="Liberation Serif, serif" fill="#111" stroke="#fff" stroke-width="0.35">V</text>
<text transform="translate(468 580.4) scale(0.93 1)" font-size="34.6" text-anchor="middle" font-family="Liberation Serif, serif" fill="#111" stroke="#fff" stroke-width="0.35">T</text><text transform="translate(483.8 590.4) scale(1.27 1)" font-size="20.8" text-anchor="middle" font-family="Liberation Serif, serif" fill="#111" stroke="#fff" stroke-width="0.35">e</text><path d="M494.1 567.4 H512.9 M494.1 574 H512.9" stroke="#333" stroke-width="1.35"/><text transform="translate(527.8 580.4) scale(0.85 1)" font-size="34.6" text-anchor="middle" font-family="Liberation Serif, serif" fill="#111" stroke="#fff" stroke-width="0.35">1</text><text transform="translate(547.9 580.4) scale(1.07 1)" font-size="34.6" text-anchor="middle" font-family="Liberation Serif, serif" fill="#111" stroke="#fff" stroke-width="0.35">0</text><text x="585.7" y="580.4" font-size="34.6" text-anchor="middle" font-family="Liberation Serif, serif" fill="#111" stroke="#fff" stroke-width="0.35">k</text><text transform="translate(607.1 580.4) scale(1.17 1)" font-size="34.6" text-anchor="middle" font-family="Liberation Serif, serif" fill="#111" stroke="#fff" stroke-width="0.35">e</text><text transform="translate(626.2 580.4) scale(0.95 1)" font-size="34.6" text-anchor="middle" font-family="Liberation Serif, serif" fill="#111" stroke="#fff" stroke-width="0.35">V</text>
<text transform="translate(468 819.2) scale(0.93 1)" font-size="34.6" text-anchor="middle" font-family="Liberation Serif, serif" fill="#111" stroke="#fff" stroke-width="0.35">T</text><text transform="translate(483.8 829.2) scale(1.27 1)" font-size="20.8" text-anchor="middle" font-family="Liberation Serif, serif" fill="#111" stroke="#fff" stroke-width="0.35">e</text><path d="M494.1 806.2 H512.9 M494.1 812.8 H512.9" stroke="#333" stroke-width="1.35"/><text transform="translate(527.5 819.2) scale(1.2 1)" font-size="34.6" text-anchor="middle" font-family="Liberation Serif, serif" fill="#111" stroke="#fff" stroke-width="0.35">5</text><text x="565.3" y="819.2" font-size="34.6" text-anchor="middle" font-family="Liberation Serif, serif" fill="#111" stroke="#fff" stroke-width="0.35">k</text><text transform="translate(586 819.2) scale(1.17 1)" font-size="34.6" text-anchor="middle" font-family="Liberation Serif, serif" fill="#111" stroke="#fff" stroke-width="0.35">e</text><text transform="translate(605.5 819.2) scale(0.95 1)" font-size="34.6" text-anchor="middle" font-family="Liberation Serif, serif" fill="#111" stroke="#fff" stroke-width="0.35">V</text>
</svg></body></html>
